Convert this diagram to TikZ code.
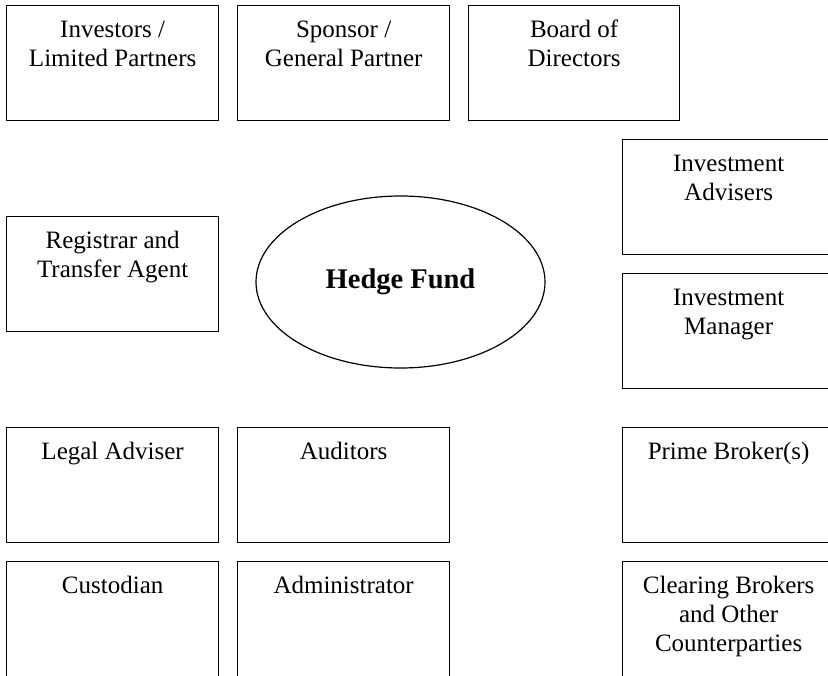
\documentclass[tikz,border=0pt]{standalone}
\usepackage{fontspec}
\setmainfont{Liberation Serif}
\usetikzlibrary{shapes.geometric}

% lines of a box label, hung from the first line
\newcommand{\boxlines}[1]{\begin{tabular}[t]{@{}c@{}}#1\end{tabular}}

\tikzset{
  party/.style={draw, line width=1.3pt, anchor=north west,
    minimum width=212pt, inner xsep=2pt, inner ysep=15pt,
    text height=17pt, text depth=68pt,
    font=\fontsize{25}{28.75}\selectfont},
  fund/.style={draw, ellipse, line width=1.2pt, inner sep=0pt,
    minimum width=289pt, minimum height=172pt,
    font=\fontsize{28.5}{32}\selectfont\bfseries}
}

\begin{document}
\begin{tikzpicture}[x=1pt, y=-1pt]
  \path[use as bounding box, clip] (0,0) rectangle (828,676);

  % top row
  \node[party] (inv)   at (6,5)   {\boxlines{Investors /\\Limited Partners}};
  \node[party] (spon)  at (237,5) {\boxlines{Sponsor /\\General Partner}};
  \node[party, minimum width=211pt] (board) at (468,5) {\boxlines{Board of\\Directors}};

  % right column
  \node[party] (adv)   at (622,139) {\boxlines{Investment\\Advisers}};
  \node[party] (mgr)   at (622,273) {\boxlines{Investment\\Manager}};
  \node[party] (prime) at (622,427) {\boxlines{Prime Broker(s)}};
  \node[party] (clear) at (622,561) {\boxlines{Clearing Brokers\\and Other\\Counterparties}};

  % left side
  \node[party] (reg)   at (6,216)   {\boxlines{Registrar and\\Transfer Agent}};
  \node[party] (legal) at (6,427)   {\boxlines{Legal Adviser}};
  \node[party] (aud)   at (237,427) {\boxlines{Auditors}};
  \node[party] (cust)  at (6,561)   {\boxlines{Custodian}};
  \node[party] (admin) at (237,561) {\boxlines{Administrator}};

  % the fund itself
  \node[fund] (hf) at (400.5,282) {\raisebox{-2.5pt}{Hedge Fund}};
\end{tikzpicture}
\end{document}
